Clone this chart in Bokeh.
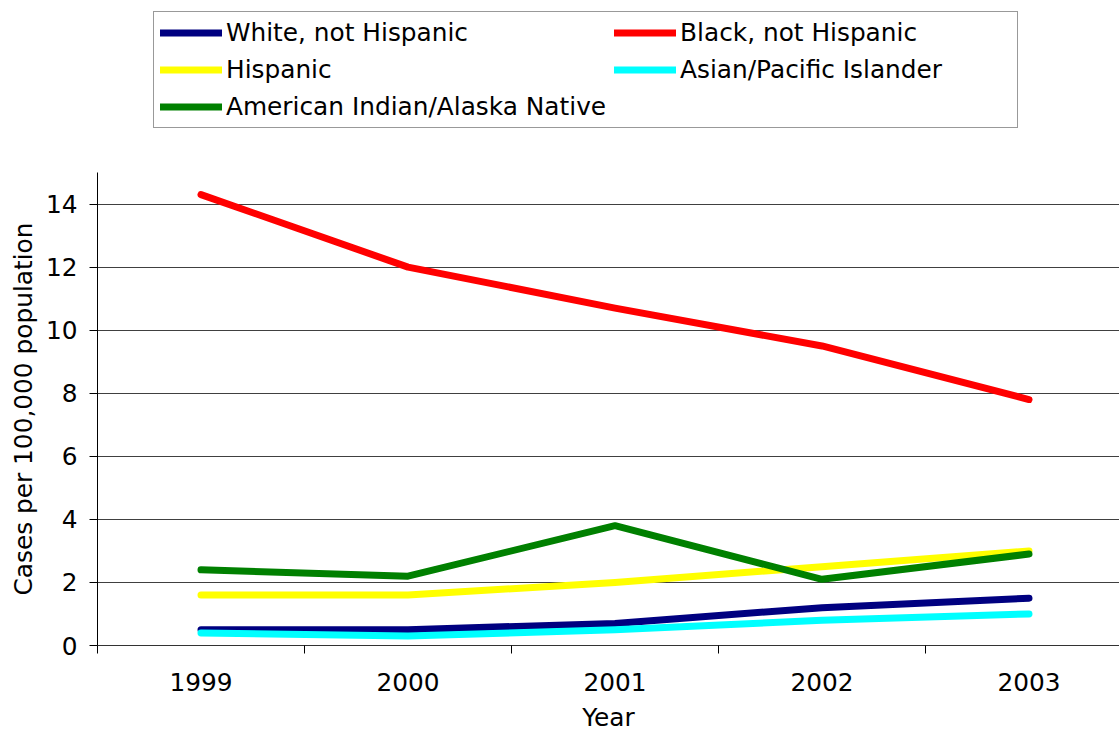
from bokeh.plotting import figure
from bokeh.layouts import column
from bokeh.models import Range1d, FixedTicker, Legend, LegendItem
from bokeh.embed import file_html
from bokeh.resources import INLINE

years = [1999, 2000, 2001, 2002, 2003]
white = [0.5, 0.5, 0.7, 1.2, 1.5]
black = [14.3, 12.0, 10.7, 9.5, 7.8]
hispanic = [1.6, 1.6, 2.0, 2.5, 3.0]
asian = [0.4, 0.3, 0.5, 0.8, 1.0]
aian = [2.4, 2.2, 3.8, 2.1, 2.9]

series_names = ["White, not Hispanic", "Black, not Hispanic", "Hispanic",
                "Asian/Pacific Islander", "American Indian/Alaska Native"]
series_values = [white, black, hispanic, asian, aian]
series_colors = ["#000080", "#FF0000", "#FFFF00", "#00FFFF", "#008000"]
y_ticks = [0, 2, 4, 6, 8, 10, 12, 14]

FONT = "DejaVu Sans"
FS = "24.8px"
W = 1119
LEFT = 97

# ---- legend strip (top); its lines lie outside its visible range ----
pl = figure(width=W, height=172, output_backend="svg", toolbar_location=None,
            x_axis_location=None, y_axis_location=None,
            x_range=Range1d(0, 1), y_range=Range1d(100, 101),
            min_border_left=LEFT, min_border_right=0, min_border_top=0, min_border_bottom=0)
pl.outline_line_color = None
pl.xgrid.grid_line_color = None
pl.ygrid.grid_line_color = None

leg_renderers = []
for vals, col in zip(series_values, series_colors):
    r = pl.line(years, vals, line_color=col, line_width=7, line_cap="round")
    leg_renderers.append(r)

items = [LegendItem(label=n, renderers=[r]) for n, r in zip(series_names, leg_renderers)]
legend = Legend(items=items, orientation="horizontal", ncols=2, location=(56, 44),
                glyph_width=62, glyph_height=29, label_height=29, label_width=331,
                label_standoff=4, spacing=8, padding=6, margin=0,
                label_text_font=FONT, label_text_font_size=FS, label_text_color="black",
                border_line_color="#333333", border_line_width=1,
                background_fill_color="white", background_fill_alpha=1.0)
pl.add_layout(legend, "center")

# ---- chart ----
p = figure(width=W, height=562, output_backend="svg", toolbar_location=None,
           x_range=Range1d(1998.5, 1998.5 + (W - LEFT) / 207), y_range=Range1d(0, 15),
           min_border_left=LEFT, min_border_right=0, min_border_top=0, min_border_bottom=89)
p.outline_line_color = None

for vals, col in zip(series_values, series_colors):
    p.line(years, vals, line_color=col, line_width=7, line_cap="round", line_join="round")

# X axis
p.xaxis.ticker = FixedTicker(ticks=years, minor_ticks=[y + 0.5 for y in years[:-1]] + [1998.5])
p.xaxis.major_label_overrides = {y: str(y) for y in years}
p.xaxis.major_tick_out = 0
p.xaxis.major_tick_in = 0
p.xaxis.minor_tick_out = 8
p.xaxis.minor_tick_in = 0
p.xaxis.minor_tick_line_color = "black"
p.xaxis.axis_line_color = "#333333"
p.xaxis.major_label_standoff = 19
p.xaxis.axis_label = "Year"
p.xaxis.axis_label_standoff = 9
p.xaxis.axis_label_text_font_style = "normal"

# Y axis
p.yaxis.ticker = FixedTicker(ticks=y_ticks, minor_ticks=[])
p.yaxis.major_tick_out = 8
p.yaxis.major_tick_in = 0
p.yaxis.major_tick_line_color = "black"
p.yaxis.axis_line_color = "black"
p.yaxis.major_label_standoff = 12
p.yaxis.axis_label = "Cases per 100,000 population"
p.yaxis.axis_label_standoff = 5
p.yaxis.axis_label_text_font_style = "normal"

for ax in (p.xaxis[0], p.yaxis[0]):
    ax.major_label_text_font = FONT
    ax.major_label_text_font_size = FS
    ax.major_label_text_color = "black"
    ax.axis_label_text_font = FONT
    ax.axis_label_text_font_size = FS
    ax.axis_label_text_color = "black"

p.xgrid.grid_line_color = None
p.ygrid.ticker = FixedTicker(ticks=y_ticks)
p.ygrid.grid_line_color = "#404040"
p.ygrid.grid_line_width = 1

layout = column(pl, p, spacing=0)
open("out.html", "w").write(file_html(layout, INLINE))
